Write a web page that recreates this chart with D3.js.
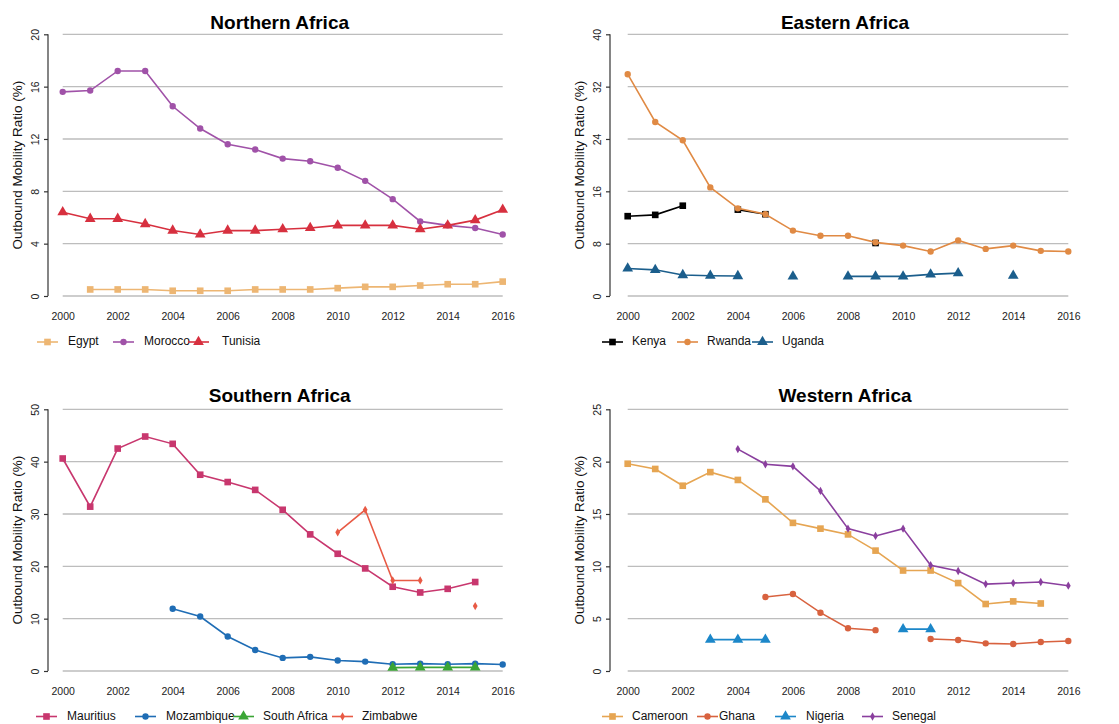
<!DOCTYPE html>
<html>
<head>
<meta charset="utf-8">
<script src="https://cdn.jsdelivr.net/npm/d3@7"></script>
<style>
body{margin:0;background:#fff;}
svg{display:block;font-family:"Liberation Sans",Arial,sans-serif;}
</style>
</head>
<body>
<svg id="c" width="1119" height="724"></svg>
<script>
const years = d3.range(2000, 2017);
const xTicks = [2000,2002,2004,2006,2008,2010,2012,2014,2016];

// Northern Africa
const egypt   = [null,0.5,0.5,0.5,0.4,0.4,0.4,0.5,0.5,0.5,0.6,0.7,0.7,0.8,0.9,0.9,1.1];
const morocco = [15.6,15.7,17.2,17.2,14.5,12.8,11.6,11.2,10.5,10.3,9.8,8.8,7.4,5.7,5.4,5.2,4.7];
const tunisia = [6.4,5.9,5.9,5.5,5.0,4.7,5.0,5.0,5.1,5.2,5.4,5.4,5.4,5.1,5.4,5.8,6.6];
// Eastern Africa
const kenya   = [12.2,12.4,13.8,null,13.2,12.5,null,null,null,8.1,null,null,null,null,null,null,null];
const rwanda  = [33.9,26.6,23.8,16.6,13.4,12.5,10.0,9.2,9.2,8.2,7.7,6.8,8.5,7.2,7.7,6.9,6.8];
const uganda  = [4.2,4.0,3.2,3.1,3.05,null,3.0,null,3.0,3.0,3.0,3.3,3.5,null,3.1,null,null];
// Southern Africa
const mauritius  = [40.6,31.4,42.5,44.8,43.4,37.5,36.1,34.6,30.8,26.1,22.4,19.6,16.1,15.0,15.7,17.0,null];
const mozambique = [null,null,null,null,11.9,10.4,6.6,4.0,2.5,2.7,2.0,1.8,1.3,1.4,1.3,1.4,1.25];
const southAfrica= [null,null,null,null,null,null,null,null,null,null,null,null,0.65,0.7,0.7,0.7,null];
const zimbabwe   = [null,null,null,null,null,null,null,null,null,null,26.5,30.8,17.3,17.3,null,12.4,null];
// Western Africa
const cameroon = [19.8,19.3,17.7,19.0,18.25,16.4,14.15,13.6,13.05,11.5,9.6,9.6,8.4,6.4,6.65,6.45,null];
const ghana    = [null,null,null,null,null,7.07,7.36,5.57,4.08,3.9,null,3.06,2.96,2.64,2.58,2.77,2.87];
const nigeria  = [null,null,null,3.0,3.0,3.0,null,null,null,null,4.0,4.0,null,null,null,null,null];
const senegal  = [null,null,null,null,21.2,19.75,19.55,17.2,13.6,12.9,13.6,10.1,9.55,8.3,8.4,8.5,8.15];

const panels = [
  {title:"Northern Africa", yMax:20, yTicks:[0,4,8,12,16,20],
   axisX:48, x0:62.7, x1:502.7, yTop:34.3, yBot:296, ox:0, oy:0, titleY:29.3, legY:342,
   series:[
     {name:"Egypt",  vals:egypt,  color:"#EDB673", shape:"square", lx:37, tx:68},
     {name:"Morocco",vals:morocco,color:"#A052A8", shape:"circle", lx:113, tx:144},
     {name:"Tunisia",vals:tunisia,color:"#D7303F", shape:"triangle", lx:188, tx:222}]},
  {title:"Eastern Africa", yMax:40, yTicks:[0,8,16,24,32,40],
   axisX:610, x0:627.7, x1:1068.3, yTop:34.3, yBot:296, ox:560, oy:0, titleY:29.3, legY:342,
   series:[
     {name:"Kenya", vals:kenya, color:"#000000", shape:"square", lx:602, tx:632},
     {name:"Rwanda",vals:rwanda,color:"#E08A44", shape:"circle", lx:677, tx:707},
     {name:"Uganda",vals:uganda,color:"#1B5E8C", shape:"triangle", lx:752, tx:782}]},
  {title:"Southern Africa", yMax:50, yTicks:[0,10,20,30,40,50],
   axisX:48, x0:62.7, x1:502.7, yTop:409.3, yBot:671, ox:0, oy:370, titleY:401.5, legY:716.5,
   series:[
     {name:"Mauritius",   vals:mauritius,  color:"#C8376E", shape:"square", lx:36, tx:67},
     {name:"Mozambique",  vals:mozambique, color:"#1F6DB5", shape:"circle", lx:135, tx:166},
     {name:"South Africa",vals:southAfrica,color:"#3AA535", shape:"triangle", lx:233, tx:263},
     {name:"Zimbabwe",    vals:zimbabwe,   color:"#E85A45", shape:"diamond", lx:332, tx:362}]},
  {title:"Western Africa", yMax:25, yTicks:[0,5,10,15,20,25],
   axisX:610, x0:627.7, x1:1068.3, yTop:409.3, yBot:671, ox:560, oy:370, titleY:401.5, legY:716.5,
   series:[
     {name:"Cameroon",vals:cameroon,color:"#E6A552", shape:"square", lx:602, tx:632},
     {name:"Ghana",   vals:ghana,   color:"#D8623F", shape:"circle", lx:697, tx:719},
     {name:"Nigeria", vals:nigeria, color:"#1C87C9", shape:"triangle", lx:775, tx:806},
     {name:"Senegal", vals:senegal, color:"#8A3F9E", shape:"diamond", lx:862, tx:892}]}
];

const svg = d3.select("#c");

function symbolFor(shape){
  if(shape==="square") return d3.symbol(d3.symbolSquare, 44);
  if(shape==="circle") return d3.symbol(d3.symbolCircle, 32);
  if(shape==="triangle") return d3.symbol(d3.symbolTriangle, 50);
  return d3.symbol(d3.symbolDiamond, 20);
}

panels.forEach(p => {
  const g = svg.append("g");
  const x = d3.scaleLinear().domain([2000,2016]).range([p.x0,p.x1]);
  const y = d3.scaleLinear().domain([0,p.yMax]).range([p.yBot,p.yTop]);

  // gridlines
  g.selectAll(".grid").data(p.yTicks).join("line")
    .attr("x1",p.x0).attr("x2",p.x1)
    .attr("y1",d=>y(d)).attr("y2",d=>y(d))
    .attr("stroke","#bdbdbd").attr("stroke-width",1.3);

  // y axis
  const ya = g.append("g").attr("transform",`translate(${p.axisX},0)`)
    .call(d3.axisLeft(y).tickValues(p.yTicks).tickSize(4).tickSizeOuter(0).tickPadding(5));
  ya.select(".domain").attr("stroke","#333").attr("stroke-width",1.2).attr("d",`M0,${y(0)}V${y(p.yMax)}`);
  ya.selectAll(".tick line").attr("stroke","#333").attr("stroke-width",1.2);
  ya.selectAll(".tick text")
    .attr("font-size",10.5).attr("fill","#222")
    .attr("text-anchor","middle")
    .attr("dy",null)
    .attr("transform","translate(-11.5,0) rotate(-90)")
    .attr("x",0).attr("y",0).attr("dominant-baseline","middle");

  // x axis labels (no line)
  const xa = g.append("g").attr("transform",`translate(0,${p.yBot})`)
    .call(d3.axisBottom(x).tickValues(xTicks).tickFormat(d3.format("d")).tickSize(0).tickPadding(17));
  xa.select(".domain").remove();
  xa.selectAll(".tick text").attr("font-size",10.5).attr("fill","#222");

  // y axis title
  g.append("text")
    .attr("transform",`translate(${p.axisX-29.5},${(p.yTop+p.yBot)/2}) rotate(-90)`)
    .attr("text-anchor","middle").attr("dominant-baseline","middle")
    .attr("font-size",13.5).attr("fill","#111")
    .text("Outbound Mobility Ratio (%)");

  // title
  g.append("text")
    .attr("x",(p.x0+p.x1)/2 - 3).attr("y",p.titleY)
    .attr("text-anchor","middle").attr("font-weight","bold")
    .attr("font-size",19).attr("fill","#000")
    .text(p.title);

  // series
  p.series.forEach(s => {
    const pts = years.map((yr,i)=>({yr, v:s.vals[i]}));
    const line = d3.line().defined(d=>d.v!=null).x(d=>x(d.yr)).y(d=>y(d.v));
    g.append("path").datum(pts).attr("d",line)
      .attr("fill","none").attr("stroke",s.color).attr("stroke-width",1.6);
    g.selectAll(null).data(pts.filter(d=>d.v!=null)).join("path")
      .attr("d",symbolFor(s.shape))
      .attr("transform",d=>`translate(${x(d.yr)},${y(d.v)})`)
      .attr("fill",s.color);
    // legend
    const ly = p.legY;
    g.append("line").attr("x1",s.lx).attr("x2",s.lx+21).attr("y1",ly).attr("y2",ly)
      .attr("stroke",s.color).attr("stroke-width",1.6);
    g.append("path").attr("d",symbolFor(s.shape))
      .attr("transform",`translate(${s.lx+10.5},${ly})`).attr("fill",s.color);
    g.append("text").attr("x",s.tx).attr("y",ly).attr("dominant-baseline","middle")
      .attr("font-size",12).attr("fill","#111").text(s.name);
  });
});
</script>
</body>
</html>
